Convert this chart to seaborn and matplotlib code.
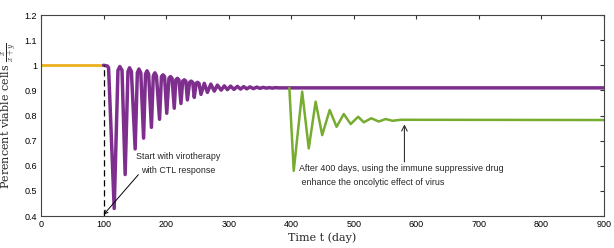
import numpy as np
import pandas as pd
import matplotlib
matplotlib.use("Agg")
import matplotlib.pyplot as plt
import seaborn as sns

# Values
# before therapy (flat at 1)
base_t = [0, 100]
base_y = [1.0, 1.0]

# virotherapy with CTL response (troughs, peaks and shoulder points)
viro_t = [100, 106, 108, 117, 123, 126, 129.5, 134.5, 139, 141.5, 144.5, 150.5,
          154, 156.5, 159.5, 164, 167, 169.5, 172, 176.5, 179.5, 182, 184.5, 189.5,
          192.5, 195, 197.5, 201, 204.5, 207, 209.5, 213, 215.5, 218, 220.5, 223.7,
          226.5, 229, 231.5, 234, 237.5, 240, 242.5, 245, 248, 250, 252.5, 255.7,
          261, 266, 271.5, 277, 282, 288, 293, 298, 303, 308.5, 314, 319, 324, 329,
          334, 339.5, 345, 350, 355, 360, 365, 370, 375, 380, 390, 900]
viro_y = [1.0, 0.997, 0.99, 0.43, 0.98, 0.995, 0.98, 0.565, 0.975, 0.99, 0.975, 0.667,
          0.97, 0.985, 0.97, 0.71, 0.965, 0.978, 0.965, 0.753, 0.958, 0.97, 0.958, 0.785,
          0.955, 0.962, 0.955, 0.809, 0.948, 0.955, 0.948, 0.829, 0.942, 0.948, 0.942, 0.848,
          0.937, 0.942, 0.937, 0.862, 0.932, 0.937, 0.932, 0.872, 0.928, 0.932, 0.928, 0.884,
          0.928, 0.892, 0.925, 0.897, 0.921, 0.901, 0.918, 0.903, 0.917, 0.904, 0.916,
          0.905, 0.915, 0.906, 0.914, 0.907, 0.913, 0.908, 0.912, 0.909, 0.911, 0.909,
          0.911, 0.91, 0.91, 0.91]

# with immune suppressive drug after 400 days
drug_t = [397, 404, 417.5, 428, 439, 449.5, 461.5, 472.5, 484, 495, 507, 516,
          528, 540, 551, 562, 575, 900]
drug_y = [0.91, 0.58, 0.895, 0.669, 0.855, 0.722, 0.822, 0.755, 0.806, 0.766,
          0.795, 0.773, 0.789, 0.776, 0.786, 0.779, 0.783, 0.782]

x_ticks = [0, 100, 200, 300, 400, 500, 600, 700, 800, 900]
y_ticks = [0.4, 0.5, 0.6, 0.7, 0.8, 0.9, 1.0, 1.1, 1.2]
y_tick_labels = ["0.4", "0.5", "0.6", "0.7", "0.8", "0.9", "1", "1.1", "1.2"]

sns.set_style("white")
plt.rcParams["font.family"] = ["Liberation Sans", "DejaVu Sans"]
plt.rcParams["mathtext.fontset"] = "cm"

fig = plt.figure(figsize=(6.14, 2.48), dpi=100)
ax = fig.add_axes([0.0668, 0.129, 0.9169, 0.8105])

sns.lineplot(x=base_t, y=base_y, color="#EDB120", linewidth=2.0, ax=ax,
             sort=False, estimator=None)
sns.lineplot(x=viro_t, y=viro_y, color="#7E2F8E", linewidth=2.5, ax=ax,
             sort=False, estimator=None)
sns.lineplot(x=drug_t, y=drug_y, color="#77AC30", linewidth=1.8, ax=ax,
             sort=False, estimator=None)

# start of therapy
ax.vlines(100, 0.4, 1.0, colors="black", linestyles=(0, (5, 3)), linewidth=0.9)

ax.annotate("Start with virotherapy\nwith CTL response", xy=(100, 0.405),
            xytext=(219, 0.61), ha="center", va="center", fontsize=6.4,
            linespacing=1.7,
            arrowprops=dict(arrowstyle="->", color="black", lw=0.7,
                            shrinkA=0, shrinkB=0, patchA=None,
                            relpos=(0.03, 0.0)))
ax.annotate("", xy=(581, 0.765), xytext=(581, 0.615),
            arrowprops=dict(arrowstyle="->", color="#333333", lw=0.8,
                            shrinkA=0, shrinkB=0))
ax.text(412, 0.563, "After 400 days, using the immune suppressive drug\n enhance the oncolytic effect of virus",
        ha="left", va="center", fontsize=6.4, linespacing=1.7)

ax.set_xlim(0, 900)
ax.set_ylim(0.4, 1.2)
ax.set_xticks(x_ticks)
ax.set_yticks(y_ticks)
ax.set_yticklabels(y_tick_labels)
ax.tick_params(direction="in", length=3, width=0.8, labelsize=6.5, pad=3,
               top=True, right=True, colors="#333333", labelcolor="black")
for s in ax.spines.values():
    s.set_color("#444444")
    s.set_linewidth(0.8)

ax.set_xlabel("Time t (day)", fontfamily="DejaVu Serif", fontsize=8, labelpad=2)
ax.set_ylabel(r"Perencent viable cells $\frac{x}{x+y}$", fontfamily="DejaVu Serif",
              fontsize=8, labelpad=4)

fig.savefig("out.png", dpi=100)
